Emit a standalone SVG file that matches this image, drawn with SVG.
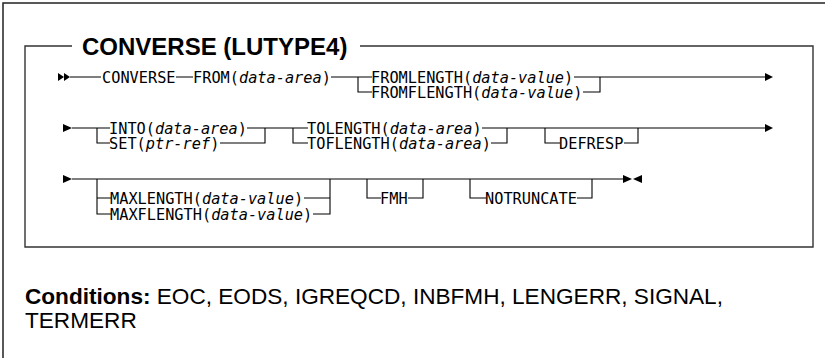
<svg xmlns="http://www.w3.org/2000/svg" width="825" height="358" viewBox="0 0 825 358">
<style>
.frame{fill:none;stroke:#222;stroke-width:1.5}
.box{fill:none;stroke:#333;stroke-width:1.4}
.ln{fill:none;stroke:#000;stroke-width:1.1}
.ar{fill:#000}
.kw{font-family:"DejaVu Sans Mono","Liberation Mono",monospace;font-size:15.27px;fill:#000}
.it{font-style:italic}
.title{font-family:"Liberation Sans",Arial,sans-serif;font-size:24px;font-weight:bold;fill:#000}
.cond{font-family:"Liberation Sans",Arial,sans-serif;font-size:22.6px;fill:#000}
.b{font-weight:bold}
</style>
<rect class="frame" x="3" y="3" width="840" height="370"/>
<path class="box" d="M72,46 H25 V247 H813 V46 H360"/>
<g id="title"><text class="title" x="82" y="55">CONVERSE (LUTYPE4)</text></g>

<g id="connectors">
  <polygon class="ar" points="58,73 64,77 58,81"/>
  <polygon class="ar" points="64,73 70,77 64,81"/>
  <path class="ln" d="M70,77 H101 M176,77 H193 M331,77 H372 M358,77 V92 H372 M574,77 H600 M583,92 H600 V77 M600,77 H766"/>
  <polygon class="ar" points="765,73 773,77 765,81"/>

  <polygon class="ar" points="63,124 72,128 63,132"/>
  <path class="ln" d="M72,128 H110 M97,128 V143 H110 M247,128 H308 M220,143 H265 V128 M293,128 V143 H308 M482,128 H766 M491,143 H507 V128 M545,128 V143 H560 M624,143 H638 V128"/>
  <polygon class="ar" points="765,124 773,128 765,132"/>

  <polygon class="ar" points="63,175 72,179 63,183"/>
  <path class="ln" d="M72,179 H624 M97,179 V214 H111 M97,198 H111 M304,198 H330 M313,214 H330 V179 M367,179 V198 H381 M408,198 H423 V179 M470,179 V198 H486 M577,198 H592 V179"/>
  <polygon class="ar" points="623,175 632,179 623,183"/>
  <polygon class="ar" points="642,175 633,179 642,183"/>
</g>

<g id="n-converse"><text class="kw" x="102" y="82.5">CONVERSE</text></g>
<g id="n-from">
  <text class="kw" x="193" y="82.5">FROM(</text>
  <text class="kw it" x="238.97" y="82.5">data-area</text>
  <text class="kw" x="321.73" y="82.5">)</text>
</g>
<g id="n-fromlength">
  <text class="kw" x="371" y="82.5">FROMLENGTH(</text>
  <text class="kw it" x="472.15" y="82.5">data-value</text>
  <text class="kw" x="564.1" y="82.5">)</text>
</g>
<g id="n-fromflength">
  <text class="kw" x="371" y="97.5">FROMFLENGTH(</text>
  <text class="kw it" x="481.34" y="97.5">data-value</text>
  <text class="kw" x="573.29" y="97.5">)</text>
</g>

<g id="n-into">
  <text class="kw" x="109" y="133.5">INTO(</text>
  <text class="kw it" x="154.97" y="133.5">data-area</text>
  <text class="kw" x="237.73" y="133.5">)</text>
</g>
<g id="n-set">
  <text class="kw" x="109" y="148.5">SET(</text>
  <text class="kw it" x="145.78" y="148.5">ptr-ref</text>
  <text class="kw" x="210.15" y="148.5">)</text>
</g>
<g id="n-tolength">
  <text class="kw" x="307" y="133.5">TOLENGTH(</text>
  <text class="kw it" x="389.76" y="133.5">data-area</text>
  <text class="kw" x="472.51" y="133.5">)</text>
</g>
<g id="n-toflength">
  <text class="kw" x="307" y="148.5">TOFLENGTH(</text>
  <text class="kw it" x="398.95" y="148.5">data-area</text>
  <text class="kw" x="481.7" y="148.5">)</text>
</g>
<g id="n-defresp"><text class="kw" x="559" y="148.5">DEFRESP</text></g>

<g id="n-maxlength">
  <text class="kw" x="110" y="203.5">MAXLENGTH(</text>
  <text class="kw it" x="201.95" y="203.5">data-value</text>
  <text class="kw" x="293.9" y="203.5">)</text>
</g>
<g id="n-maxflength">
  <text class="kw" x="110" y="219.5">MAXFLENGTH(</text>
  <text class="kw it" x="211.15" y="219.5">data-value</text>
  <text class="kw" x="303.1" y="219.5">)</text>
</g>
<g id="n-fmh"><text class="kw" x="380" y="203.5">FMH</text></g>
<g id="n-notruncate"><text class="kw" x="485" y="203.5">NOTRUNCATE</text></g>

<g id="conditions">
  <text class="cond" x="25" y="304"><tspan class="b">Conditions:</tspan> EOC, EODS, IGREQCD, INBFMH, LENGERR, SIGNAL,</text>
  <text class="cond" x="25" y="328">TERMERR</text>
</g>
</svg>
